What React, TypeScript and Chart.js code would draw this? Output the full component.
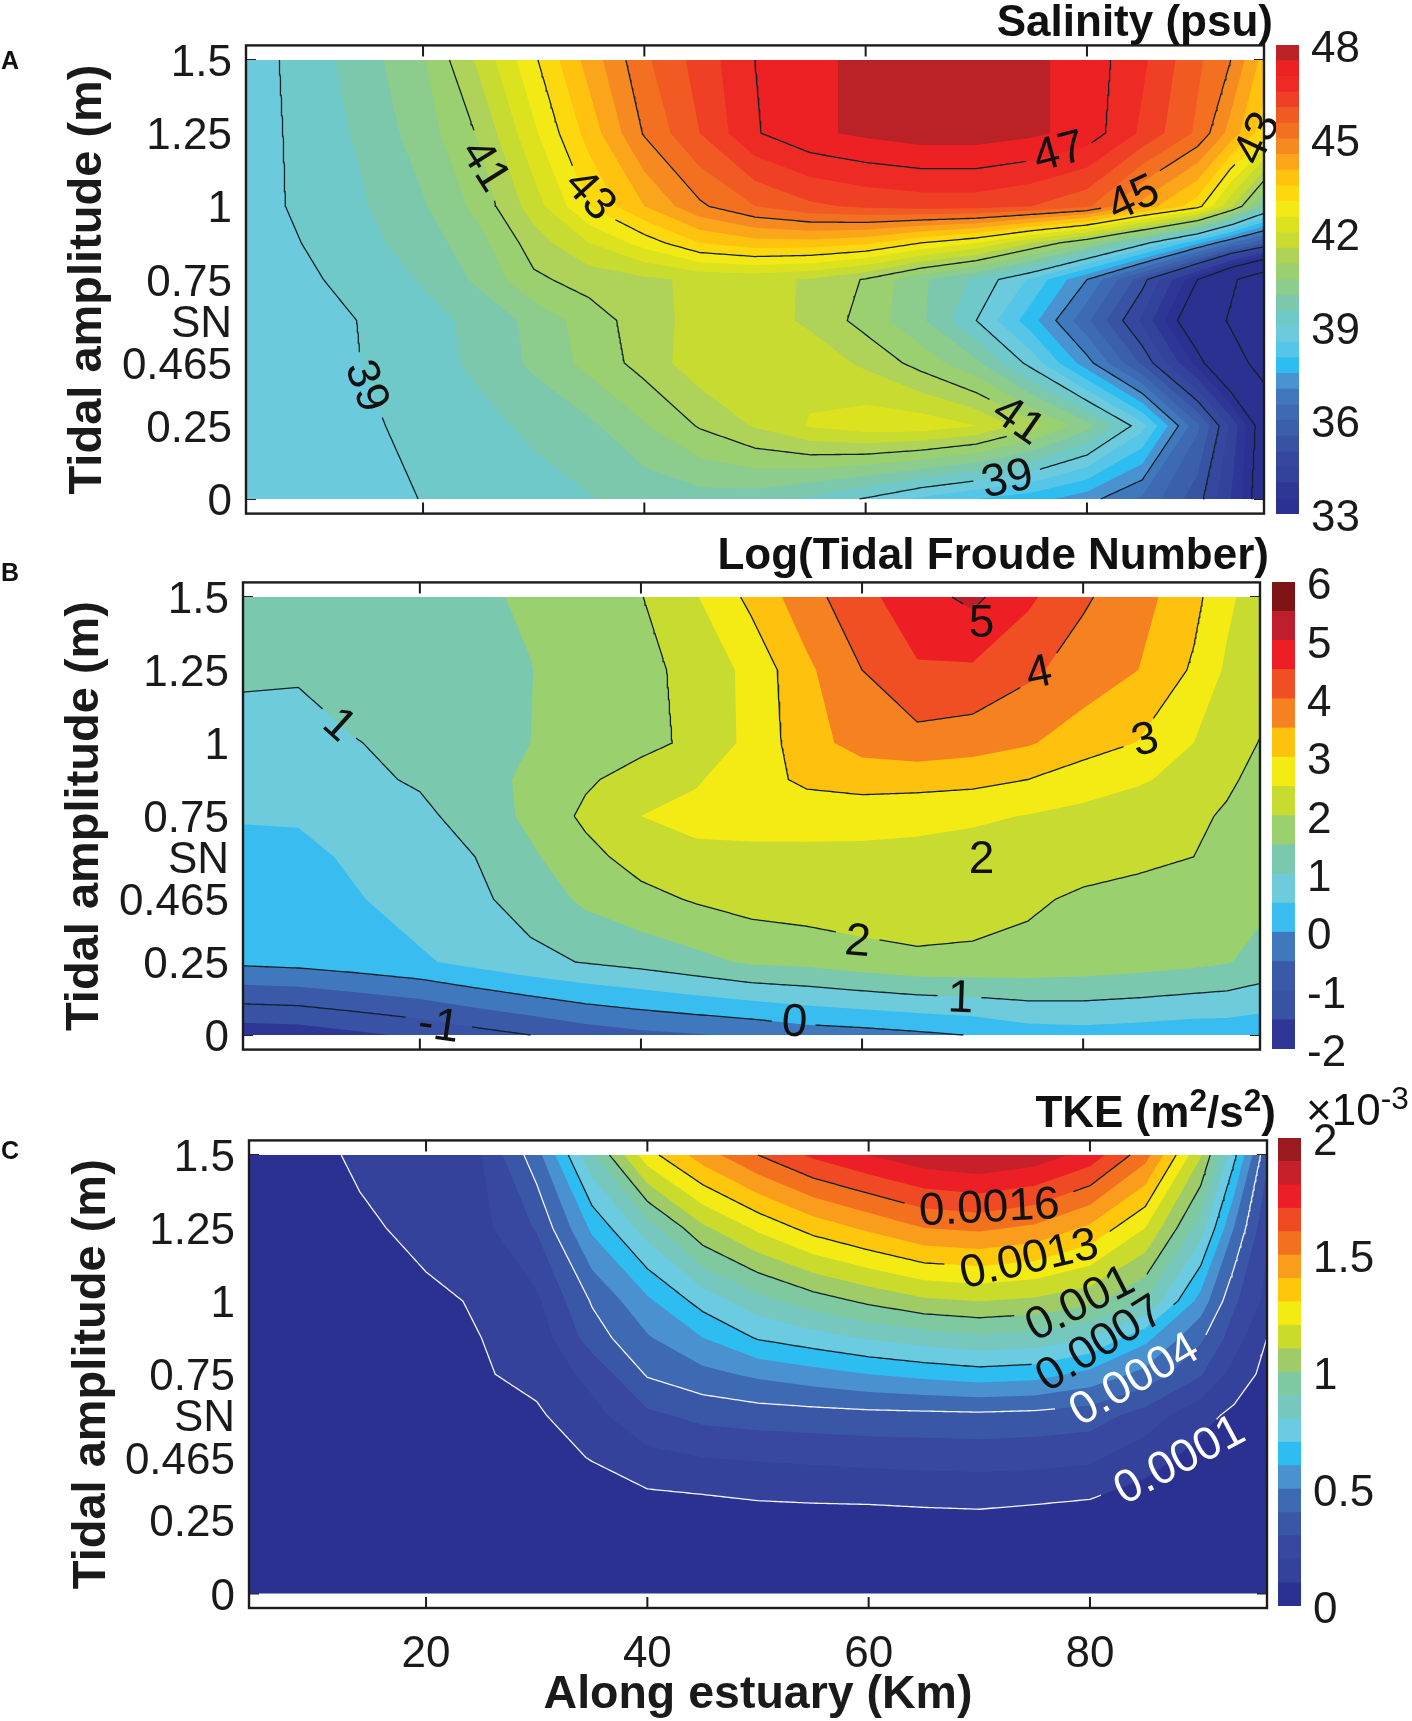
import { useEffect, useRef } from 'react';
import { Chart, registerables } from 'chart.js';

Chart.register(...registerables);

const kmColumns = [4, 9, 14, 20, 25, 30, 35, 40, 45, 50, 55, 60, 65, 70, 75, 80, 85, 90, 93, 96];
const amplitudeRows = [0, 0.25, 0.465, 0.61, 0.75, 0.875, 1, 1.25, 1.5];

const salinity = [
  [38.55, 38.6, 38.75, 39.02, 39.15, 39.3, 39.47, 39.65, 39.8, 39.75, 39.4, 38.95, 38.4, 38, 37.7, 37.2, 36.4, 35.2, 34, 32.4],
  [38.6, 38.75, 38.9, 39.13, 39.35, 39.6, 39.9, 40.45, 41.05, 41.55, 42.05, 42.3, 42.3, 42, 41.2, 40.2, 38.7, 36.1, 34.4, 32.5],
  [38.6, 38.8, 38.98, 39.3, 39.6, 40.1, 40.65, 41.2, 41.8, 41.95, 41.8, 41.4, 40.8, 40.1, 38.8, 37.2, 35.4, 33.3, 31.8, 30.3],
  [38.6, 38.8, 39, 39.3, 39.65, 40.15, 40.75, 41.25, 41.7, 41.75, 41.4, 40.8, 40.1, 39, 37.7, 36.1, 34.4, 32.2, 30.8, 29.5],
  [38.7, 38.9, 39.15, 39.55, 40.1, 40.9, 41.2, 41.4, 41.6, 41.65, 41.45, 40.95, 40.1, 39.4, 38.4, 37, 35.2, 33, 31.3, 29.8],
  [38.7, 39, 39.3, 39.75, 40.3, 41.25, 42, 42.7, 43.5, 43.8, 43.8, 43.6, 43, 42.5, 41.5, 40.5, 39.2, 37.6, 36.5, 35.6],
  [38.75, 39.1, 39.4, 39.95, 40.65, 41.75, 43, 44, 44.9, 45.5, 45.9, 46.1, 46.2, 46.2, 46, 45.6, 44.3, 43.2, 41.6, 39.8],
  [38.7, 39.15, 39.55, 40.25, 41.05, 42.4, 43.7, 45.05, 46, 46.95, 47.4, 47.6, 47.75, 47.75, 47.6, 47.3, 46.4, 45.4, 44.3, 43.2],
  [38.7, 39.2, 39.7, 40.45, 41.6, 42.9, 44.2, 45.4, 46.2, 47, 47.4, 47.6, 47.8, 47.8, 47.6, 47.3, 46.6, 45.6, 45, 43.8],
];

const froude = [
  [-1.82, -1.78, -1.61, -1.41, -1.19, -1, -0.77, -0.62, -0.53, -0.44, -0.27, -0.2, -0.1, 0.02, 0.25, 0.3, 0.25, 0.18, 0.19, 0.14],
  [0.1, 0.16, 0.27, 0.43, 0.65, 0.87, 1.03, 1.17, 1.36, 1.57, 1.63, 1.78, 1.9, 1.9, 1.85, 1.8, 1.72, 1.62, 1.53, 1.36],
  [0.3, 0.32, 0.45, 0.72, 0.9, 1.2, 1.6, 1.85, 2.05, 2.2, 2.28, 2.33, 2.3, 2.2, 2.08, 1.92, 1.85, 1.8, 1.75, 1.6],
  [0.3, 0.35, 0.58, 0.82, 1, 1.42, 1.85, 2.2, 2.38, 2.38, 2.37, 2.36, 2.35, 2.3, 2.27, 2.2, 2.1, 2, 1.88, 1.68],
  [0.55, 0.56, 0.72, 0.9, 1.18, 1.62, 2.1, 2.5, 2.65, 2.7, 2.72, 2.72, 2.65, 2.58, 2.48, 2.38, 2.28, 2.08, 1.95, 1.8],
  [0.63, 0.7, 0.9, 1.05, 1.3, 1.6, 1.93, 2.2, 2.45, 2.8, 3.1, 3.2, 3.2, 3.15, 3, 2.72, 2.55, 2.36, 2.07, 1.88],
  [0.77, 0.68, 0.98, 1.12, 1.3, 1.5, 1.7, 1.87, 2.1, 2.65, 3.3, 3.7, 3.82, 3.72, 3.55, 3.25, 2.98, 2.5, 2.25, 1.98],
  [1.1, 1.1, 1.2, 1.3, 1.4, 1.49, 1.68, 1.87, 2.15, 2.65, 3.4, 4, 4.45, 4.43, 4.1, 3.78, 3.5, 2.93, 2.42, 2.25],
  [1.25, 1.28, 1.32, 1.38, 1.44, 1.55, 1.77, 1.98, 2.47, 3.13, 3.8, 4.35, 4.8, 5.12, 4.6, 4.07, 3.7, 3.15, 2.62, 2.2],
];

// TKE in units of 10^-3 m2/s2, same as the colour bar
const tke = [
  [0, 0, 0, 0, 0.001, 0.002, 0.003, 0.004, 0.005, 0.005, 0.005, 0.005, 0.005, 0.005, 0.005, 0.004, 0.003, 0.002, 0.001, 0.001],
  [0.001, 0.002, 0.003, 0.005, 0.008, 0.015, 0.025, 0.03, 0.03, 0.05, 0.055, 0.056, 0.065, 0.07, 0.055, 0.04, 0.02, 0.012, 0.01, 0.008],
  [0.002, 0.004, 0.008, 0.015, 0.03, 0.06, 0.105, 0.17, 0.2, 0.21, 0.22, 0.23, 0.235, 0.24, 0.235, 0.22, 0.14, 0.07, 0.05, 0.03],
  [0.003, 0.006, 0.012, 0.025, 0.05, 0.085, 0.17, 0.28, 0.33, 0.35, 0.36, 0.37, 0.375, 0.38, 0.37, 0.35, 0.26, 0.13, 0.08, 0.05],
  [0.004, 0.01, 0.02, 0.04, 0.09, 0.13, 0.23, 0.41, 0.47, 0.52, 0.56, 0.6, 0.63, 0.655, 0.64, 0.57, 0.47, 0.31, 0.16, 0.07],
  [0.006, 0.015, 0.03, 0.06, 0.1, 0.14, 0.35, 0.49, 0.6, 0.71, 0.76, 0.81, 0.85, 0.88, 0.86, 0.8, 0.63, 0.42, 0.25, 0.1],
  [0.01, 0.025, 0.05, 0.08, 0.11, 0.18, 0.41, 0.58, 0.74, 0.86, 0.95, 1.02, 1.08, 1.1, 1.08, 1.03, 0.9, 0.56, 0.32, 0.17],
  [0.015, 0.04, 0.08, 0.13, 0.17, 0.31, 0.62, 0.85, 1.08, 1.22, 1.34, 1.42, 1.5, 1.52, 1.48, 1.38, 1.2, 0.85, 0.5, 0.22],
  [0.02, 0.06, 0.12, 0.16, 0.2, 0.46, 0.88, 1.26, 1.45, 1.6, 1.72, 1.8, 1.87, 1.9, 1.86, 1.76, 1.54, 1.11, 0.73, 0.32],
];

const xTicks = [20, 40, 60, 80];
const yTicks = [0, 0.25, 0.465, 0.61, 0.75, 1, 1.25, 1.5];
const yTickLabels = ['0', '0.25', '0.465', 'SN', '0.75', '1', '1.25', '1.5'];

const salinityLines = [31, 33, 35, 37, 39, 41, 43, 45, 47];
const froudeLines = [-1, 0, 1, 2, 3, 4, 5];
const tkeLines = [0.1, 0.4, 0.7, 1, 1.3, 1.6];
const whiteTkeLines = [0.1, 0.4];

const salinityLabels = [
  { text: '39', level: 39, x: 14.9, y: 0.386, rot: 70 },
  { text: '41', level: 41, x: 25.6, y: 1.139, rot: 58 },
  { text: '43', level: 43, x: 35.1, y: 1.039, rot: 48 },
  { text: '47', level: 47, x: 77.5, y: 1.186, rot: -15 },
  { text: '45', level: 45, x: 84.2, y: 1.027, rot: -25 },
  { text: '43', level: 43, x: 95.4, y: 1.233, rot: -65 },
  { text: '41', level: 41, x: 73.8, y: 0.268, rot: 35 },
  { text: '39', level: 39, x: 72.8, y: 0.068, rot: -12 },
];
const froudeLabels = [
  { text: '1', level: 1, x: 12.7, y: 1.062, rot: 42 },
  { text: '-1', level: -1, x: 21.7, y: 0.032, rot: 8 },
  { text: '5', level: 5, x: 70.8, y: 1.41, rot: 0 },
  { text: '4', level: 4, x: 76, y: 1.24, rot: -12 },
  { text: '3', level: 3, x: 85.6, y: 1.01, rot: -15 },
  { text: '2', level: 2, x: 70.8, y: 0.603, rot: 0 },
  { text: '2', level: 2, x: 59.6, y: 0.32, rot: 5 },
  { text: '1', level: 1, x: 68.9, y: 0.126, rot: 2 },
  { text: '0', level: 0, x: 53.9, y: 0.044, rot: 3 },
];
const tkeLabels = [
  { text: '0.0016', level: 1.6, x: 70.9, y: 1.319, rot: -3 },
  { text: '0.0013', level: 1.3, x: 74.5, y: 1.143, rot: -13 },
  { text: '0.001', level: 1, x: 79.1, y: 0.992, rot: -27 },
  { text: '0.0007', level: 0.7, x: 80.9, y: 0.854, rot: -32 },
  { text: '0.0004', level: 0.4, x: 84, y: 0.731, rot: -30 },
  { text: '0.0001', level: 0.1, x: 88.1, y: 0.456, rot: -28 },
];

// colour bars, bottom band first
const salinityColors = [
  '#2b3190', '#2e3796', '#33429b', '#35479f', '#3953a4', '#3c5fab', '#3e6ab3', '#4078be', '#4a93d1', '#2dbdf0',
  '#55c5e8', '#6bcbdc', '#70c9c9', '#7bc8ac', '#8ccc8c', '#9ad06f', '#aed358', '#c7db30', '#dde21f', '#f3ea15',
  '#fdd80f', '#ffc20e', '#fba51a', '#f68a20', '#f37021', '#f15a23', '#ef3f24', '#ee2a24', '#ed2024', '#ba2228',
];
const froudeColors = [
  '#2e3796', '#3953a4', '#3a59a8', '#4078be', '#39bdf0', '#6dcbdc', '#7ac8ad', '#9bd06f',
  '#c7db30', '#f4eb15', '#fec10e', '#f68120', '#f04e23', '#ed1f24', '#be1e2d', '#7e1416',
];
const tkeColors = [
  '#2b3190', '#35429b', '#38479f', '#3a56a6', '#3e6ab3', '#4a91d0', '#2dbdf0', '#6bcbe0', '#76c7bd', '#7fc9a0',
  '#a0cc68', '#cbdb2c', '#f5eb14', '#ffc70b', '#fa9c1c', '#f3701f', '#f04a24', '#ec1f26', '#c8202b', '#9a1a1f',
];

type Pt = { x: number; y: number };
type Label = { text: string; level: number; x: number; y: number; rot: number };

// marching squares, every crossing sits on one grid edge so the edge key chains the segments
function contourChains(xs: number[], ys: number[], z: number[][], level: number): Pt[][] {
  const pts = new Map<string, Pt>();
  const links = new Map<string, string[]>();
  const cross = (i0: number, j0: number, i1: number, j1: number) => {
    const key = `${i0},${j0},${i1},${j1}`;
    if (!pts.has(key)) {
      const a = z[j0][i0];
      const b = z[j1][i1];
      const t = (level - a) / (b - a);
      pts.set(key, { x: xs[i0] + t * (xs[i1] - xs[i0]), y: ys[j0] + t * (ys[j1] - ys[j0]) });
      links.set(key, []);
    }
    return key;
  };
  const link = (a: string, b: string) => {
    links.get(a)!.push(b);
    links.get(b)!.push(a);
  };

  for (let j = 0; j < ys.length - 1; j++) {
    for (let i = 0; i < xs.length - 1; i++) {
      const a = z[j][i] >= level;
      const b = z[j][i + 1] >= level;
      const c = z[j + 1][i + 1] >= level;
      const d = z[j + 1][i] >= level;
      const bottom = a !== b ? cross(i, j, i + 1, j) : null;
      const right = b !== c ? cross(i + 1, j, i + 1, j + 1) : null;
      const top = d !== c ? cross(i, j + 1, i + 1, j + 1) : null;
      const left = a !== d ? cross(i, j, i, j + 1) : null;
      const hits = [bottom, right, top, left].filter(Boolean) as string[];
      if (hits.length === 2) {
        link(hits[0], hits[1]);
      } else if (hits.length === 4) {
        const centre = (z[j][i] + z[j][i + 1] + z[j + 1][i + 1] + z[j + 1][i]) / 4 >= level;
        if (a !== centre) {
          link(left!, bottom!);
          link(right!, top!);
        } else {
          link(bottom!, right!);
          link(top!, left!);
        }
      }
    }
  }

  const seen = new Set<string>();
  const walk = (start: string) => {
    const chain: Pt[] = [];
    let cur: string | undefined = start;
    while (cur && !seen.has(cur)) {
      seen.add(cur);
      chain.push(pts.get(cur)!);
      cur = links.get(cur)!.find(n => !seen.has(n));
    }
    return chain;
  };
  const chains: Pt[][] = [];
  links.forEach((n, key) => {
    if (n.length === 1 && !seen.has(key)) chains.push(walk(key));
  });
  links.forEach((_, key) => {
    if (!seen.has(key)) {
      const loop = walk(key);
      loop.push(loop[0]);
      chains.push(loop);
    }
  });
  return chains;
}

// regions z >= level, the ring of very low values closes them along the plot edge
function filledRegions(xs: number[], ys: number[], z: number[][], level: number) {
  const low = -1e9;
  const px = [xs[0], ...xs, xs[xs.length - 1]];
  const py = [ys[0], ...ys, ys[ys.length - 1]];
  const empty = px.map(() => low);
  const pz = [empty, ...z.map(row => [low, ...row, low]), empty];
  return contourChains(px, py, pz, level);
}

const KM_MIN = 4;
const KM_MAX = 96;
const AMP_MIN = -0.05;
const AMP_MAX = 1.55;

interface PanelProps {
  z: number[][];
  colors: string[];
  bandStart: number;
  bandStep: number;
  lines: number[];
  whiteLines?: number[];
  labels: Label[];
  left: number;
  right: number;
  top: number;
  bottom: number;
  titleX: number;
  showX?: boolean;
}

function ContourPanel(p: PanelProps) {
  const ref = useRef<HTMLCanvasElement>(null);
  const canvasTop = p.top - 40;
  const canvasHeight = p.showX ? 1721 - canvasTop : p.bottom + 40 - canvasTop;
  const canvasWidth = p.right + 30;

  useEffect(() => {
    if (!ref.current) return;
    const pxKm = (p.right - p.left) / (KM_MAX - KM_MIN);
    const pxAmp = (p.bottom - p.top) / (AMP_MAX - AMP_MIN);

    const inLabel = (pt: Pt, level: number) =>
      p.labels.some(l => {
        if (Math.abs(l.level - level) > 1e-6) return false;
        const dx = (pt.x - l.x) * pxKm;
        const dy = -(pt.y - l.y) * pxAmp;
        const r = (l.rot * Math.PI) / 180;
        const u = dx * Math.cos(r) + dy * Math.sin(r);
        const v = -dx * Math.sin(r) + dy * Math.cos(r);
        return Math.abs(u) < l.text.length * 12.5 + 8 && Math.abs(v) < 18;
      });

    const lineDatasets: any[] = [];
    p.lines.forEach(level => {
      contourChains(kmColumns, amplitudeRows, p.z, level).forEach(chain => {
        const data: Pt[] = [];
        for (let i = 0; i < chain.length - 1; i++) {
          const a = chain[i];
          const b = chain[i + 1];
          const len = Math.hypot((b.x - a.x) * pxKm, (b.y - a.y) * pxAmp);
          const steps = Math.max(1, Math.ceil(len / 3));
          for (let s = 0; s < steps; s++) {
            const pt = { x: a.x + ((b.x - a.x) * s) / steps, y: a.y + ((b.y - a.y) * s) / steps };
            data.push(inLabel(pt, level) ? { x: NaN, y: NaN } : pt);
          }
        }
        const last = chain[chain.length - 1];
        if (!inLabel(last, level)) data.push(last);
        lineDatasets.push({
          data,
          showLine: true,
          fill: false,
          pointRadius: 0,
          tension: 0,
          spanGaps: false,
          borderWidth: 1.3,
          borderColor: p.whiteLines?.includes(level) ? '#f4f4f8' : '#10222a',
        });
      });
    });

    // chart.js paints the first dataset last, so highest band first and lines on top
    const fillDatasets: any[] = [];
    for (let i = p.colors.length - 1; i >= 0; i--) {
      const level = i === 0 ? -1e8 : p.bandStart + i * p.bandStep;
      filledRegions(kmColumns, amplitudeRows, p.z, level).forEach(loop => {
        fillDatasets.push({
          data: loop,
          showLine: true,
          fill: 'shape',
          backgroundColor: p.colors[i],
          borderWidth: 0,
          pointRadius: 0,
          tension: 0,
        });
      });
    }

    const frame = {
      id: 'frame',
      beforeDatasetsDraw(chart: any) {
        const { ctx, chartArea: a, scales } = chart;
        ctx.save();
        ctx.strokeStyle = '#222';
        ctx.lineWidth = 2;
        yTicks.forEach(v => {
          const y = scales.y.getPixelForValue(v);
          ctx.beginPath();
          ctx.moveTo(a.left, y);
          ctx.lineTo(a.left + 10, y);
          ctx.moveTo(a.right, y);
          ctx.lineTo(a.right - 10, y);
          ctx.stroke();
        });
        ctx.restore();
      },
      afterDatasetsDraw(chart: any) {
        const { ctx, chartArea: a, scales } = chart;
        ctx.save();
        ctx.strokeStyle = '#1c1c1c';
        ctx.lineWidth = 2;
        xTicks.forEach(v => {
          const x = scales.x.getPixelForValue(v);
          ctx.beginPath();
          ctx.moveTo(x, a.top);
          ctx.lineTo(x, a.top + 11);
          ctx.moveTo(x, a.bottom);
          ctx.lineTo(x, a.bottom - 11);
          ctx.stroke();
        });
        ctx.lineWidth = 2.4;
        ctx.strokeRect(a.left, a.top, a.right - a.left, a.bottom - a.top);

        ctx.font = '46px "Liberation Sans"';
        ctx.textAlign = 'center';
        ctx.textBaseline = 'middle';
        p.labels.forEach(l => {
          ctx.save();
          ctx.translate(scales.x.getPixelForValue(l.x), scales.y.getPixelForValue(l.y));
          ctx.rotate((l.rot * Math.PI) / 180);
          ctx.fillStyle = p.whiteLines?.includes(l.level) ? '#ffffff' : '#111111';
          ctx.fillText(l.text, 0, 1);
          ctx.restore();
        });
        ctx.restore();
      },
    };

    const chart = new Chart(ref.current, {
      type: 'scatter',
      data: { datasets: [...lineDatasets, ...fillDatasets] },
      plugins: [frame],
      options: {
        responsive: false,
        animation: false,
        layout: { padding: { top: 40, right: 30, bottom: p.showX ? 0 : 40 } },
        plugins: { legend: { display: false }, tooltip: { enabled: false } },
        scales: {
          x: {
            type: 'linear',
            min: KM_MIN,
            max: KM_MAX,
            grid: { display: false, drawTicks: false },
            border: { display: false },
            afterBuildTicks: (s: any) => {
              s.ticks = xTicks.map(value => ({ value }));
            },
            afterFit: (s: any) => {
              s.height = p.showX ? 1721 - p.bottom : 0;
            },
            ticks: {
              display: !!p.showX,
              autoSkip: false,
              maxRotation: 0,
              padding: 20,
              color: '#1a1a1a',
              font: { family: 'Liberation Sans', size: 44 },
            },
            title: {
              display: !!p.showX,
              text: 'Along estuary (Km)',
              color: '#1a1a1a',
              padding: { top: 0, bottom: 0 },
              font: { family: 'Liberation Sans', size: 46.5, weight: 'bold', lineHeight: 1.1 },
            },
          },
          y: {
            type: 'linear',
            min: AMP_MIN,
            max: AMP_MAX,
            grid: { display: false, drawTicks: false },
            border: { display: false },
            afterBuildTicks: (s: any) => {
              s.ticks = yTicks.map(value => ({ value }));
            },
            afterFit: (s: any) => {
              s.width = p.left;
            },
            ticks: {
              autoSkip: false,
              padding: 14,
              labelOffset: 4,
              color: '#1a1a1a',
              font: { family: 'Liberation Sans', size: 44 },
              callback: (v: any) => yTickLabels[yTicks.indexOf(v)],
            },
            title: {
              display: true,
              text: 'Tidal amplitude (m)',
              color: '#1a1a1a',
              padding: { top: p.titleX - 28, bottom: 0 },
              font: { family: 'Liberation Sans', size: 47, weight: 'bold' },
            },
          },
        },
      },
    } as any);

    return () => chart.destroy();
  }, []);

  return (
    <canvas
      ref={ref}
      width={canvasWidth}
      height={canvasHeight}
      style={{ position: 'absolute', left: 0, top: canvasTop, width: canvasWidth, height: canvasHeight }}
    />
  );
}

interface BarProps {
  colors: string[];
  start: number;
  step: number;
  ticks: number[];
  left: number;
  right: number;
  top: number;
  bottom: number;
}

function ColorBar(p: BarProps) {
  const ref = useRef<HTMLCanvasElement>(null);
  const labelWidth = 105;
  const width = p.right - p.left + labelWidth;
  const height = p.bottom - p.top + 80;

  useEffect(() => {
    if (!ref.current) return;
    const lo = p.start;
    const hi = p.start + p.colors.length * p.step;
    const chart = new Chart(ref.current, {
      type: 'bar',
      data: {
        labels: [''],
        datasets: p.colors.map((c, i) => ({
          data: [[p.start + i * p.step, p.start + (i + 1) * p.step]],
          backgroundColor: c,
          grouped: false,
          barPercentage: 1,
          categoryPercentage: 1,
          borderWidth: 0,
        })),
      },
      options: {
        responsive: false,
        animation: false,
        layout: { padding: { top: 40, bottom: 40 } },
        plugins: { legend: { display: false }, tooltip: { enabled: false } },
        scales: {
          x: { display: false },
          y: {
            position: 'right',
            min: lo,
            max: hi,
            grid: { display: false, drawTicks: false },
            border: { display: false },
            afterBuildTicks: (s: any) => {
              s.ticks = p.ticks.map(value => ({ value }));
            },
            afterFit: (s: any) => {
              s.width = labelWidth;
            },
            ticks: {
              autoSkip: false,
              padding: 12,
              labelOffset: 5,
              color: '#1a1a1a',
              font: { family: 'Liberation Sans', size: 44 },
              callback: (v: any) => String(v),
            },
          },
        },
      },
    } as any);
    return () => chart.destroy();
  }, []);

  return (
    <canvas
      ref={ref}
      width={width}
      height={height}
      style={{ position: 'absolute', left: p.left, top: p.top - 40, width, height }}
    />
  );
}

const textBase: any = {
  position: 'absolute',
  fontFamily: '"Liberation Sans", Arial, sans-serif',
  whiteSpace: 'nowrap',
  color: '#111',
  lineHeight: 1,
  transform: 'translateY(-50%)',
};
const titleStyle = { ...textBase, fontWeight: 'bold', fontSize: 44 };
const letterStyle = { ...textBase, fontWeight: 'bold', fontSize: 25, left: 1 };
const supStyle: any = { fontSize: '0.72em', lineHeight: 0, verticalAlign: '0.5em' };

export default function App() {
  return (
    <div style={{ position: 'absolute', left: 0, top: 0, width: 1412, height: 1721, overflow: 'hidden', background: '#fff' }}>
      <ContourPanel
        z={salinity}
        colors={salinityColors}
        bandStart={33}
        bandStep={0.5}
        lines={salinityLines}
        labels={salinityLabels}
        left={246}
        right={1264}
        top={45}
        bottom={514}
        titleX={88}
      />
      <ColorBar colors={salinityColors} start={33} step={0.5} ticks={[33, 36, 39, 42, 45, 48]} left={1276} right={1299} top={45} bottom={514} />
      <ContourPanel
        z={froude}
        colors={froudeColors}
        bandStart={-2}
        bandStep={0.5}
        lines={froudeLines}
        labels={froudeLabels}
        left={243}
        right={1260}
        top={582}
        bottom={1050}
        titleX={85}
      />
      <ColorBar colors={froudeColors} start={-2} step={0.5} ticks={[-2, -1, 0, 1, 2, 3, 4, 5, 6]} left={1272} right={1295} top={582} bottom={1049} />
      <ContourPanel
        z={tke}
        colors={tkeColors}
        bandStart={0}
        bandStep={0.1}
        lines={tkeLines}
        whiteLines={whiteTkeLines}
        labels={tkeLabels}
        left={249}
        right={1267}
        top={1140}
        bottom={1608}
        titleX={92}
        showX
      />
      <ColorBar colors={tkeColors} start={0} step={0.1} ticks={[0, 0.5, 1, 1.5, 2]} left={1278} right={1301} top={1138} bottom={1606} />

      <div style={{ ...titleStyle, right: 1412 - 1273, top: 21 }}>Salinity (psu)</div>
      <div style={{ ...titleStyle, right: 1412 - 1269, top: 554 }}>Log(Tidal Froude Number)</div>
      <div style={{ ...titleStyle, right: 1412 - 1276, top: 1112 }}>
        TKE (m<sup style={supStyle}>2</sup>/s<sup style={supStyle}>2</sup>)
      </div>
      <div style={{ ...textBase, left: 1306, top: 1110, fontSize: 44 }}>
        ×10<sup style={supStyle}>-3</sup>
      </div>
      <div style={{ ...letterStyle, top: 60 }}>A</div>
      <div style={{ ...letterStyle, top: 572 }}>B</div>
      <div style={{ ...letterStyle, top: 1150 }}>C</div>
    </div>
  );
}
